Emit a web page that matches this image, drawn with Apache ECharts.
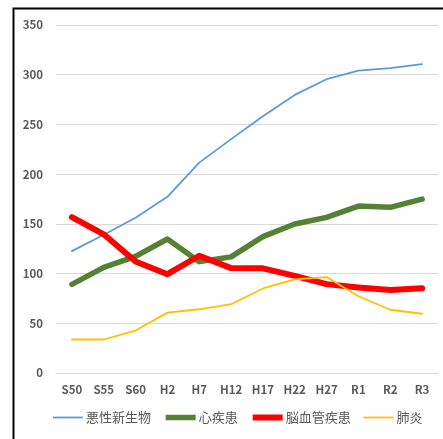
<!DOCTYPE html>
<html><head><meta charset="utf-8">
<script src="https://cdn.jsdelivr.net/npm/echarts@6/dist/echarts.min.js"></script>
<style>html,body{margin:0;padding:0;background:#fff}#c{width:443px;height:439px}</style>
</head><body><div id="c"></div>
<script>
const categories = ['S50','S55','S60','H2','H7','H12','H17','H22','H27','R1','R2','R3'];
const cancer = [122.6,139.1,156.1,177.2,211.6,235.2,258.3,279.7,295.5,304.2,306.6,310.7];
const heart = [89.2,106.2,117.3,134.8,112.0,116.8,137.2,149.8,156.5,167.9,166.6,174.9];
const stroke = [156.7,139.5,112.2,99.4,117.9,105.5,105.3,97.7,89.4,86.1,83.5,85.2];
const pneumonia = [33.7,33.7,42.7,60.7,64.1,69.2,85.0,94.1,96.5,77.2,63.6,59.6];
const names = ['悪性新生物','心疾患','脳血管疾患','肺炎'];
const yTicks = {min:0,max:350,interval:50};

const chart = echarts.init(document.getElementById('c'));
const font = '"Noto Sans CJK JP","Noto Sans",sans-serif';
function line(name, data, color, width){
  return {name, type:'line', data, showSymbol:false, symbol:'none', smooth:false,
    lineStyle:{color, width, cap:'round', join:'round'}, itemStyle:{color}, animation:false};
}
chart.setOption({
  animation:false,
  textStyle:{fontFamily:font},
  graphic:[{type:'rect', shape:{x:13.5,y:8.5,width:440,height:440}, style:{fill:null, stroke:'#000', lineWidth:2}, silent:true, z:100}],
  grid:{left:56,right:5,top:25,bottom:66,containLabel:false},
  xAxis:{type:'category', data:categories, boundaryGap:true,
    axisLine:{show:true,lineStyle:{color:'#d9d9d9'}}, axisTick:{show:false},
    axisLabel:{color:'#595959', fontSize:11.5, fontWeight:'bold', margin:11, fontFamily:font}},
  yAxis:{type:'value', min:yTicks.min, max:yTicks.max, interval:yTicks.interval,
    axisLine:{show:false}, axisTick:{show:false},
    splitLine:{lineStyle:{color:'#d9d9d9', width:1}},
    axisLabel:{color:'#595959', fontSize:11.5, fontWeight:'bold', margin:13, fontFamily:font}},
  legend:{bottom:10, left:47, itemWidth:30, itemHeight:8, itemGap:12,
    itemStyle:{opacity:0}, lineStyle:{width:'inherit', cap:'butt'},
    textStyle:{color:'#595959', fontSize:13, fontFamily:font, padding:[0,0,0,-2]},
    data:names},
  series:[
    line(names[0], cancer, '#5B9BD5', 1.8),
    line(names[1], heart, '#548235', 5.5),
    line(names[2], stroke, '#FF0000', 6),
    line(names[3], pneumonia, '#FFC000', 1.8)
  ]
});
</script></body></html>
